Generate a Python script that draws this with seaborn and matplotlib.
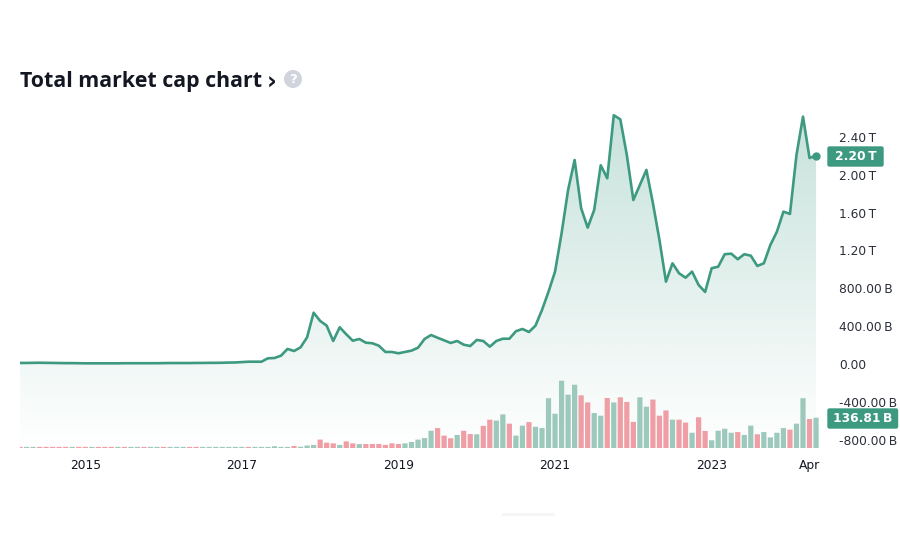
import numpy as np
import pandas as pd
import matplotlib
matplotlib.use("Agg")
import matplotlib.pyplot as plt
from matplotlib.patches import Circle, FancyBboxPatch, Rectangle
import seaborn as sns

# monthly market cap, billions (Mar 2014 onward)
cap_b = [11,11,12,13,12,11,10,9,9,8, 7,7,7,7,7,7,8,8,8,8, 8,8,9,10,10,10,10,11,11,12, 12,13,15,16,20,
         24,24,24,60,63, 88,159,137,176,282,542,455,405,243,388, 314,246,264,225,219,193,127,127,113,127,
         141,172,264,306,277,250,222,243,204,190, 254,243,183,243,267,267,346,370,338,405, 571,764,976,
         1381,1839,2156,1646,1441,1628,2100, 1963,2629,2586,2209,1733,1892,2051,1699,1311,870, 1064,959,
         912,976,835,761,1012,1028,1160,1166, 1107,1160,1145,1036,1064,1258,1398,1610,1586,2209, 2614,2177,2202]
# monthly volume, billions
vol_b = [5,5,5,5,5,5,5,5,5,5, 5,5,5,5,5,5,5,5,5,5, 5,5,5,5,5,5,5,5,5,5, 5,5,5,5,5,5,5,5,5,8,
         5,5,9, 6,11,14,38,24,21,14, 30,21,18,18,18,18,14,21,18,21, 27,38,45,78,90,56,44,59,78,63,
         62,100,128,124,152,110,56,101,117,96, 90,225,155,304,241,286,238,206,158,146,
         226,206,229,208,118,229,187,219,146,170, 128,128,115,69,139,77,35,78,87,69,
         72,59,101,62,72,48,69,90,83,110, 225,131,136.81]
vol_dir = list("duudddddud" "duddduduud" "uuduuudduu" "uuuuuduuuu" "uud" "uuudddu"
               "dduddddddu" "uuuudddudd" "udduuduudu" "uuuuuudduu" "duddduuddd"
               "uddudduuuu" "duuduuuudu" "udu")
cap_ticks = [-800, -400, 0, 400, 800, 1200, 1600, 2000, 2400]
cap_tick_labels = ["-800.00\u2009B", "-400.00\u2009B", "0.00", "400.00\u2009B", "800.00\u2009B",
                   "1.20\u2009T", "1.60\u2009T", "2.00\u2009T", "2.40\u2009T"]
year_idx = [10, 34, 58, 82, 106, 121]
year_labels = ["2015", "2017", "2019", "2021", "2023", "Apr"]
TITLE = "Total market cap chart"
GREEN = "#3d9a80"

sns.set_theme(style="white")
plt.rcParams["font.family"] = ["DejaVu Sans"]
W, H = 900, 560
fig = plt.figure(figsize=(W / 100, H / 100), dpi=100, facecolor="white")
L, R, T, B = 20, 819, 100, 448
ax = fig.add_axes([L / W, 1 - B / H, (R - L) / W, (B - T) / H])
ax2 = ax.twinx()
df = pd.DataFrame({"idx": np.arange(len(cap_b)), "cap": cap_b})
xlim = (0, (R - L) / 6.525)
ylim = (-888, 2790)

poly = ax.fill_between(df["idx"], df["cap"], ylim[0], color="none", lw=0)
grad = np.zeros((256, 2, 4))
grad[..., :3] = matplotlib.colors.to_rgb(GREEN)
grad[..., 3] = np.linspace(0.30, 0, 256)[:, None]
im = ax.imshow(grad, extent=(xlim[0], xlim[1], ylim[0], ylim[1]), aspect="auto", origin="upper", zorder=1)
im.set_clip_path(poly.get_paths()[0], transform=ax.transData)
sns.lineplot(data=df, x="idx", y="cap", color=GREEN, lw=1.9, ax=ax, zorder=3, errorbar=None)
for l in ax.lines:
    l.set_solid_joinstyle("round")
ax.plot(df["idx"].iloc[-1], df["cap"].iloc[-1], "o", color=GREEN, ms=5, zorder=4, clip_on=False)

ax.set_xlim(*xlim)
ax.set_ylim(*ylim)
ax.set_xlabel("")
ax.set_ylabel("")
ax.yaxis.tick_right()
ax.set_yticks(cap_ticks)
ax.set_yticklabels(cap_tick_labels, ha="left", fontsize=8.8, color="#2a2e39")
ax.tick_params(axis="y", length=0, pad=14.5, labelright=True, labelleft=False)
ax.set_xticks(year_idx)
ax.set_xticklabels(year_labels, fontsize=8.8, color="#131722")
ax.tick_params(axis="x", length=0, pad=8)
for s in ax.spines.values():
    s.set_visible(False)

vdf = pd.DataFrame({"idx": np.arange(len(vol_b)), "vol": vol_b, "dir": vol_dir})
sns.barplot(data=vdf, x="idx", y="vol", hue="dir", hue_order=["u", "d"], palette={"u": "#9cc9bb", "d": "#ef9ea5"},
            native_scale=True, dodge=False, width=0.8, saturation=1, legend=False, ax=ax2, zorder=2)
for p in ax2.patches:
    p.set_snap(False)
    p.set_linewidth(0)
ax2.set_xlim(*xlim)
ax2.set_ylim(0, (B - T) * 4.52)
ax2.set_xlabel("")
ax2.set_ylabel("")
ax2.set_yticks([])
for s in ax2.spines.values():
    s.set_visible(False)
ax2.patch.set_visible(False)

# overlay in figure pixels
ov = fig.add_axes([0, 0, 1, 1], facecolor="none")
ov.set_xlim(0, W)
ov.set_ylim(H, 0)
ov.axis("off")
ov.add_patch(FancyBboxPatch((828, 147), 55, 19, boxstyle="round,pad=0,rounding_size=1.5", fc=GREEN, ec=GREEN, lw=1))
ov.text(856, 156.8, "2.20\u2009T", color="white", fontsize=8.8, fontweight="bold", ha="center", va="center")
ov.add_patch(FancyBboxPatch((828, 409), 69.5, 19, boxstyle="round,pad=0,rounding_size=1.5", fc=GREEN, ec=GREEN, lw=1))
ov.text(862.5, 418.5, "136.81\u2009B", color="white", fontsize=8.8, fontweight="bold", ha="center", va="center")
ov.text(20, 87, TITLE, fontsize=15.4, fontweight="bold", family="Open Sans", color="#131722", va="baseline", ha="left")
ov.text(267, 82.5, "\u203a", fontsize=17, fontweight="bold", family="DejaVu Sans", color="#131722", va="center", ha="left")
ov.add_patch(Circle((293, 79), 9, fc="#d1d4dc", ec="none"))
ov.text(293, 79.5, "?", color="white", fontsize=9.5, fontweight="bold", ha="center", va="center")
ov.add_patch(Rectangle((502, 513), 53, 3, fc="#f6f6f8", ec="none"))

fig.savefig("out.png", dpi=100)
